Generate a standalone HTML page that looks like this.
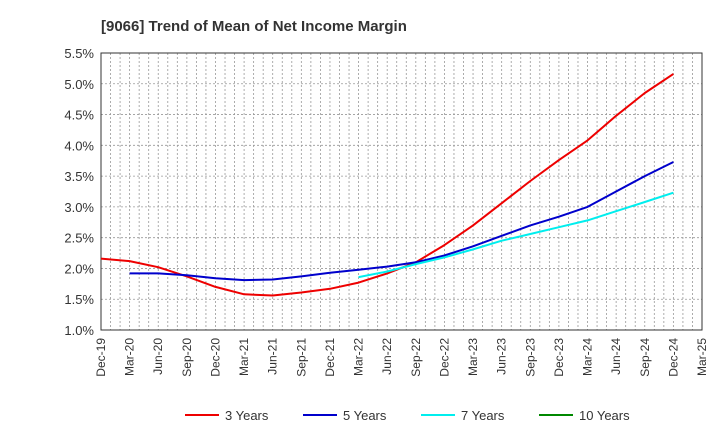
<!DOCTYPE html>
<html><head><meta charset="utf-8"><style>
body{margin:0;background:#fff;font-family:"Liberation Sans",sans-serif}
</style></head><body>
<svg id="c" width="720" height="440" xmlns="http://www.w3.org/2000/svg">
<text x="101" y="31" font-size="15" font-weight="bold" fill="#333">[9066]  Trend of Mean of Net Income Margin</text>
<g id="grid"></g><g id="axes"></g><g id="series"></g><g id="legend"></g>
</svg>
<script>
const xLabels=["Dec-19","Mar-20","Jun-20","Sep-20","Dec-20","Mar-21","Jun-21","Sep-21","Dec-21","Mar-22","Jun-22","Sep-22","Dec-22","Mar-23","Jun-23","Sep-23","Dec-23","Mar-24","Jun-24","Sep-24","Dec-24","Mar-25"];
const yTicks=[1.0,1.5,2.0,2.5,3.0,3.5,4.0,4.5,5.0,5.5];
const s3=[2.16,2.12,2.02,1.87,1.70,1.58,1.56,1.61,1.67,1.77,1.92,2.10,2.38,2.70,3.06,3.42,3.76,4.08,4.48,4.85,5.16];
const s5=[null,1.92,1.92,1.89,1.84,1.81,1.82,1.87,1.93,1.98,2.03,2.10,2.21,2.36,2.53,2.70,2.84,3.00,3.25,3.50,3.73];
const s7=[null,null,null,null,null,null,null,null,null,1.86,1.95,2.07,2.18,2.31,2.45,2.56,2.67,2.78,2.93,3.08,3.23];
const s10=[];
const L=101,R=702,T=53,B=330,NS="http://www.w3.org/2000/svg";
const xq=i=>L+(R-L)*i/21, xm=m=>L+(R-L)*m/63;
const y=v=>B-(v-1.0)/4.5*(B-T);
function el(t,a,p){const e=document.createElementNS(NS,t);for(const k in a)e.setAttribute(k,a[k]);document.getElementById(p).appendChild(e);return e;}
for(let m=1;m<63;m++){const e=el('line',{x1:xm(m),x2:xm(m),y1:T,y2:B,stroke:'#999','stroke-dasharray':'2,2','stroke-width':0.8},'grid');

}
yTicks.forEach(v=>{if(v>1.0&&v<5.5){const e=el('line',{x1:L,x2:R,y1:y(v),y2:y(v),stroke:'#999','stroke-dasharray':'2,2','stroke-width':0.8},'grid');

}
const t=el('text',{x:L-7,y:y(v)+5,'text-anchor':'end','font-size':13,fill:'#333'},'axes');t.textContent=v.toFixed(1)+'%';

});
const fr=el('rect',{x:L,y:T,width:R-L,height:B-T,fill:'none',stroke:'#333','stroke-width':1},'axes');


xLabels.forEach((lb,i)=>{const x=xq(i);const t=el('text',{transform:`translate(${x+4},${B+8}) rotate(-90)`,'text-anchor':'end','font-size':12,fill:'#333'},'axes');t.textContent=lb;

});
function line(d,c,name){let p='';d.forEach((v,i)=>{if(v==null)return;p+=(p?'L':'M')+xq(i).toFixed(1)+','+y(v).toFixed(1);});
if(!p)return;const e=el('path',{d:p,fill:'none',stroke:c,'stroke-width':2,'stroke-linejoin':'round'},'series');

}
line(s3,'#e00','line-3-years');line(s5,'#00c','line-5-years');line(s7,'#0ee','line-7-years');line(s10,'#080','line-10-years');
[['3 Years','#e00',185],['5 Years','#00c',303],['7 Years','#0ee',421],['10 Years','#080',539]].forEach(([n,c,x])=>{
const l=el('line',{x1:x,x2:x+34,y1:415,y2:415,stroke:c,'stroke-width':2},'legend');


const t=el('text',{x:x+40,y:420,'font-size':13,fill:'#333'},'legend');t.textContent=n;

});
</script>
</body></html>
